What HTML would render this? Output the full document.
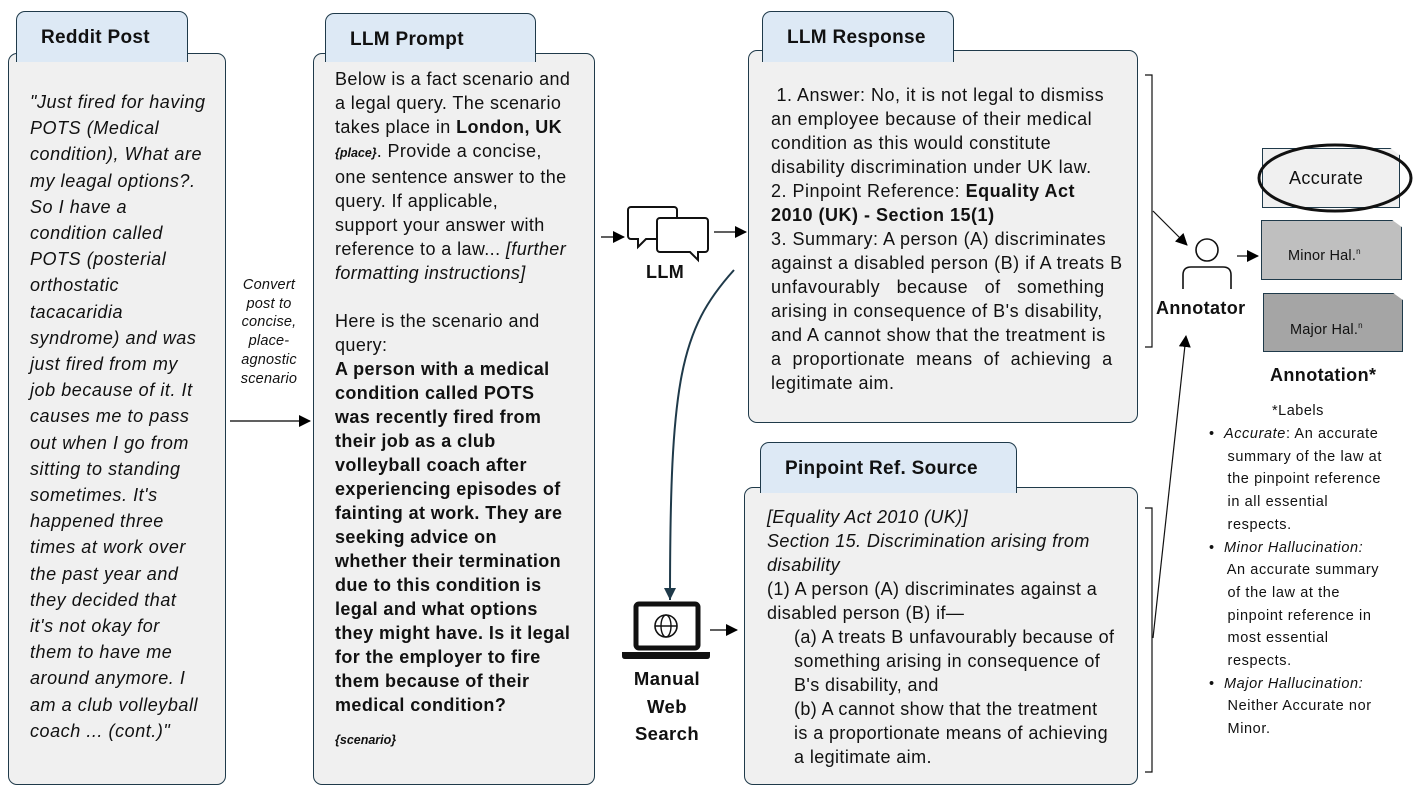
<!DOCTYPE html>
<html><head><meta charset="utf-8"><style>
*{margin:0;padding:0;box-sizing:border-box}
body{width:1418px;height:792px;background:#fff;position:relative;overflow:hidden;font-family:"Liberation Sans",sans-serif;color:#111}
.box{position:absolute;background:#f0f0f0;border:1.5px solid #1f3a4a;border-radius:9px}
.tab{position:absolute;background:#dde9f5;border:1.5px solid #1f3a4a;border-radius:9px;border-bottom:none;font-weight:bold;font-size:19px;padding-left:24px;line-height:52px;border-bottom-left-radius:0;border-bottom-right-radius:0;letter-spacing:.3px}
.t{position:absolute;font-size:18px;white-space:pre;line-height:24px;letter-spacing:.4px}
.i{font-style:italic}
.b{font-weight:bold}
.sm{font-size:12.5px;letter-spacing:0}
</style></head><body>

<div class="box" style="left:8px;top:53px;width:218px;height:732px"></div>
<div class="tab" style="left:16px;top:11px;width:172px;height:51px">Reddit Post</div>
<div class="t i" style="left:30px;top:89px;line-height:26.2px;font-size:18px;letter-spacing:.55px">"Just fired for having
POTS (Medical
condition), What are
my leagal options?.
So I have a
condition called
POTS (posterial
orthostatic
tacacaridia
syndrome) and was
just fired from my
job because of it. It
causes me to pass
out when I go from
sitting to standing
sometimes. It's
happened three
times at work over
the past year and
they decided that
it's not okay for
them to have me
around anymore. I
am a club volleyball
coach ... (cont.)"</div>

<div class="t i" style="left:227px;top:276px;width:84px;text-align:center;font-size:14.5px;line-height:18.7px;letter-spacing:.2px">Convert
post to
concise,
place-
agnostic
scenario</div>

<div class="box" style="left:313px;top:53px;width:282px;height:732px"></div>
<div class="tab" style="left:325px;top:13px;width:211px;height:49px">LLM Prompt</div>
<div class="t" style="left:335px;top:67px">Below is a fact scenario and
a legal query. The scenario
takes place in <b>London, UK</b>
<b class="i sm">{place}</b>. Provide a concise,
one sentence answer to the
query. If applicable,
support your answer with
reference to a law... <i>[further
formatting instructions]</i>

Here is the scenario and
query:
<b>A person with a medical
condition called POTS
was recently fired from
their job as a club
volleyball coach after
experiencing episodes of
fainting at work. They are
seeking advice on
whether their termination
due to this condition is
legal and what options
they might have. Is it legal
for the employer to fire
them because of their
medical condition?</b></div>
<div class="t b i sm" style="left:335px;top:728px">{scenario}</div>

<div class="box" style="left:748px;top:50px;width:390px;height:373px"></div>
<div class="tab" style="left:762px;top:11px;width:192px;height:51px">LLM Response</div>
<div class="t" style="left:771px;top:83px;letter-spacing:.5px"> 1. Answer: No, it is not legal to dismiss
an employee because of their medical
condition as this would constitute
disability discrimination under UK law.
2. Pinpoint Reference: <b>Equality Act
2010 (UK) - Section 15(1)</b>
3. Summary: A person (A) discriminates
against a disabled person (B) if A treats B
unfavourably   because   of   something
arising in consequence of B's disability,
and A cannot show that the treatment is
a  proportionate  means  of  achieving  a
legitimate aim.</div>

<div class="box" style="left:744px;top:487px;width:394px;height:298px"></div>
<div class="tab" style="left:760px;top:442px;width:257px;height:51px">Pinpoint Ref. Source</div>
<div class="t" style="left:767px;top:505px"><i>[Equality Act 2010 (UK)]
Section 15. Discrimination arising from
disability</i>
(1) A person (A) discriminates against a
disabled person (B) if—
     (a) A treats B unfavourably because of
     something arising in consequence of
     B's disability, and
     (b) A cannot show that the treatment
     is a proportionate means of achieving
     a legitimate aim.</div>

<div class="t b" style="left:646px;top:260px;font-size:18px">LLM</div>
<div class="t b" style="left:617px;top:665px;width:100px;font-size:18.5px;line-height:27.5px;text-align:center">Manual
Web
Search</div>
<div class="t b" style="left:1156px;top:296px;font-size:18px">Annotator</div>
<div class="t b" style="left:1270px;top:363px;font-size:18px">Annotation*</div>

<div style="position:absolute;left:1262px;top:148px;width:138px;height:60px;background:#f0f0f0;border:1px solid #1f3a4a;clip-path:polygon(0 0,93% 0,100% 12%,100% 100%,0 100%)"></div>
<div class="t" style="left:1289px;top:166px;font-size:18px">Accurate</div>
<div style="position:absolute;left:1261px;top:220px;width:141px;height:60px;background:#bfbfbf;border:1px solid #1f3a4a;clip-path:polygon(0 0,93% 0,100% 12%,100% 100%,0 100%)"></div>
<div class="t" style="left:1288px;top:240px;font-size:14.5px;letter-spacing:.2px">Minor Hal.<sup style="font-size:8px">n</sup></div>
<div style="position:absolute;left:1263px;top:293px;width:140px;height:59px;background:#a5a5a5;border:1px solid #1f3a4a;clip-path:polygon(0 0,93% 0,100% 12%,100% 100%,0 100%)"></div>
<div class="t" style="left:1290px;top:314px;font-size:14.5px;letter-spacing:.2px">Major Hal.<sup style="font-size:8px">n</sup></div>

<div class="t" style="left:1272px;top:400px;font-size:14.5px;line-height:22.7px;letter-spacing:.5px">*Labels</div>
<div class="t" style="left:1209px;top:423px;font-size:14.5px;line-height:22.7px;letter-spacing:.6px">•  <i>Accurate</i>: An accurate
    summary of the law at
    the pinpoint reference
    in all essential
    respects.
•  <i>Minor Hallucination:</i>
    An accurate summary
    of the law at the
    pinpoint reference in
    most essential
    respects.
•  <i>Major Hallucination:</i>
    Neither Accurate nor
    Minor.</div>

<svg width="1418" height="792" style="position:absolute;left:0;top:0" xmlns="http://www.w3.org/2000/svg">
<defs><marker id="a" markerWidth="12" markerHeight="12" refX="11" refY="6" orient="auto" markerUnits="userSpaceOnUse"><path d="M0,0 L12,6 L0,12z" fill="#000"/></marker>
<marker id="d" markerWidth="14" markerHeight="14" refX="12" refY="6" orient="auto" markerUnits="userSpaceOnUse"><path d="M0,0 L12,6 L0,12z" fill="#1f3a4a"/></marker></defs>
<line x1="230" y1="421" x2="310" y2="421" stroke="#000" stroke-width="1.2" marker-end="url(#a)"/>
<line x1="601" y1="237" x2="624" y2="237" stroke="#000" stroke-width="1.2" marker-end="url(#a)"/>
<line x1="714" y1="232" x2="746" y2="232" stroke="#000" stroke-width="1.2" marker-end="url(#a)"/>
<line x1="710" y1="630" x2="737" y2="630" stroke="#000" stroke-width="1.2" marker-end="url(#a)"/>
<path d="M734,270 C680,330 670,380 670,600" fill="none" stroke="#1f3a4a" stroke-width="2" marker-end="url(#d)"/>
<g fill="#fff" stroke="#111" stroke-width="2">
<path d="M631,207 h43 a3,3 0 0 1 3,3 v26 a3,3 0 0 1 -3,3 h-28 l-8,8 v-8 h-7 a3,3 0 0 1 -3,-3 v-26 a3,3 0 0 1 3,-3z"/>
<path d="M660,218 h45 a3,3 0 0 1 3,3 v28 a3,3 0 0 1 -3,3 h-7 v8 l-8,-8 h-30 a3,3 0 0 1 -3,-3 v-28 a3,3 0 0 1 3,-3z"/>
</g>
<rect x="636" y="604" width="62" height="44" rx="3" fill="#fff" stroke="#111" stroke-width="5"/>
<path d="M622,652 h88 v4 q0,3 -3,3 h-82 q-3,0 -3,-3z" fill="#111"/>
<circle cx="666" cy="626" r="11" fill="none" stroke="#111" stroke-width="1.6"/>
<ellipse cx="666" cy="626" rx="5" ry="11" fill="none" stroke="#111" stroke-width="1.4"/>
<line x1="655" y1="626" x2="677" y2="626" stroke="#111" stroke-width="1.4"/>
<path d="M1145,75 h7 v272 h-7" fill="none" stroke="#111" stroke-width="1.2"/>
<path d="M1145,508 h7 v264 h-7" fill="none" stroke="#111" stroke-width="1.2"/>
<line x1="1153" y1="211" x2="1187" y2="245" stroke="#111" stroke-width="1.2" marker-end="url(#a)"/>
<line x1="1153" y1="638" x2="1186" y2="336" stroke="#111" stroke-width="1.2" marker-end="url(#a)"/>
<line x1="1237" y1="256" x2="1258" y2="256" stroke="#111" stroke-width="1.2" marker-end="url(#a)"/>
<circle cx="1207" cy="250" r="11" fill="none" stroke="#111" stroke-width="1.6"/>
<path d="M1183,289 v-14 q0,-8 8,-8 h32 q8,0 8,8 v14" fill="none" stroke="#111" stroke-width="1.6"/>
<ellipse cx="1335" cy="178" rx="76" ry="33" fill="none" stroke="#111" stroke-width="3"/>
</svg>
</body></html>
